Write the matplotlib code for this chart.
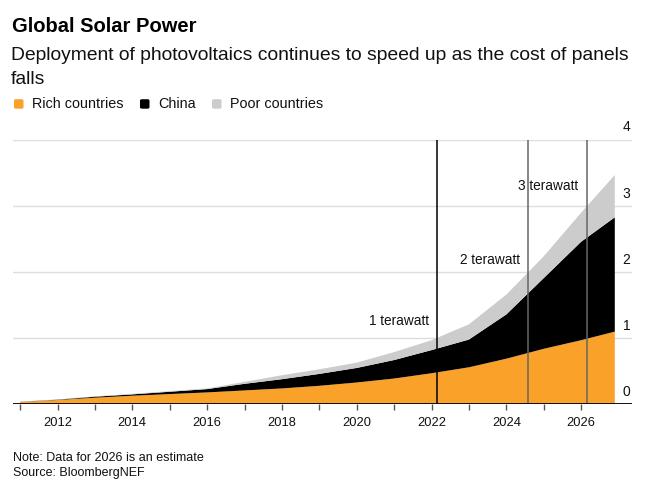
import matplotlib
matplotlib.use("Agg")
import matplotlib.pyplot as plt
from matplotlib.patches import FancyBboxPatch
import numpy as np

plt.rcParams['font.family'] = ['Liberation Sans', 'DejaVu Sans']

# ---- data (terawatts, cumulative) ----
x_pos = [2011, 2012, 2013, 2014, 2015, 2016, 2017, 2018, 2019, 2020,
         2021, 2022, 2023, 2024, 2025, 2026, 2026.9]
rich = [0.035, 0.065, 0.10, 0.13, 0.155, 0.18, 0.21, 0.24, 0.28, 0.33,
        0.39, 0.47, 0.56, 0.69, 0.84, 0.97, 1.10]
china = [0.002, 0.005, 0.015, 0.02, 0.035, 0.05, 0.10, 0.14, 0.18, 0.22,
         0.28, 0.35, 0.42, 0.67, 1.07, 1.49, 1.73]
poor = [0.003, 0.005, 0.005, 0.01, 0.01, 0.01, 0.03, 0.06, 0.07, 0.08,
        0.12, 0.15, 0.23, 0.30, 0.33, 0.44, 0.64]
series_names = ["Rich countries", "China", "Poor countries"]
series_colors = ["#FAA12A", "#000000", "#CCCCCC"]

milestone_x = [2022.15, 2024.58, 2026.15]
milestone_labels = ["1 terawatt", "2 terawatt", "3 terawatt"]
milestone_label_y = [1.26, 2.19, 3.31]
milestone_colors = ["#000000", "#666666", "#666666"]

y_ticks = [0, 1, 2, 3, 4]
x_ticks = list(range(2011, 2027))
x_labels = [str(y) if y % 2 == 0 else "" for y in x_ticks]

W, H = 656, 492
fig = plt.figure(figsize=(W / 100, H / 100), dpi=100)

left, right = 13, 632
y0, y4 = 404.3, 140
ax = fig.add_axes([left / W, 1 - y0 / H, (right - left) / W, (y0 - y4) / H])

ax.stackplot(x_pos, rich, china, poor, colors=series_colors, linewidth=0, zorder=2)

ax.set_xlim(2010.81, 2027.36)
ax.set_ylim(0, 4)

for v in y_ticks[1:]:
    ax.axhline(v, color="#DDDDDD", lw=1.0, zorder=1)
ax.axhline(0, color="#000000", lw=1.3, zorder=4)

for s in ax.spines.values():
    s.set_visible(False)

ax.set_xticks(x_ticks)
ax.set_xticklabels(x_labels, fontsize=9.3, color="#111111")
ax.tick_params(axis='x', length=4, width=1, color="#555555", pad=5)
ax.set_yticks([])

for v in y_ticks:
    ax.annotate(str(v), xy=(1.0, v), xycoords=('axes fraction', 'data'),
                xytext=(-1, 4), textcoords='offset points',
                ha='right', va='bottom', fontsize=10, color="#111111")

for mx, lab, ly, c in zip(milestone_x, milestone_labels, milestone_label_y, milestone_colors):
    ax.axvline(mx, ymin=0, ymax=1, color=c, lw=1.1, zorder=3)
    ax.annotate(lab, xy=(mx, ly), xytext=(-6, 0), textcoords='offset points',
                ha='right', va='center', fontsize=9.8, color="#111111", zorder=5)

# titles
fig.text(12 / W, 1 - 32.5 / H, "Global Solar Power", fontsize=14.5, fontweight='bold',
         ha='left', va='baseline', color="#000000")
fig.text(11 / W, 1 - 59.5 / H, "Deployment of photovoltaics continues to speed up as the cost of panels",
         fontsize=13.9, ha='left', va='baseline', color="#111111")
fig.text(11 / W, 1 - 83.5 / H, "falls", fontsize=13.9, ha='left', va='baseline', color="#111111")

# legend
leg_x = [14, 140, 212]
text_x = [32, 158, 230]
for lx, tx, name, col in zip(leg_x, text_x, series_names, series_colors):
    fig.patches.append(FancyBboxPatch((lx / W, 1 - 108.7 / H), 9.5 / W, 9.5 / H,
                                      boxstyle="round,pad=0,rounding_size=0.003",
                                      transform=fig.transFigure, facecolor=col,
                                      edgecolor='none'))
    fig.text(tx / W, 1 - 108.3 / H, name, fontsize=10.4, ha='left', va='baseline', color="#111111")

fig.text(13 / W, 1 - 461 / H, "Note: Data for 2026 is an estimate", fontsize=9,
         ha='left', va='baseline', color="#111111")
fig.text(13 / W, 1 - 475.7 / H, "Source: BloombergNEF", fontsize=9,
         ha='left', va='baseline', color="#111111")

fig.savefig("out.png", dpi=100)
